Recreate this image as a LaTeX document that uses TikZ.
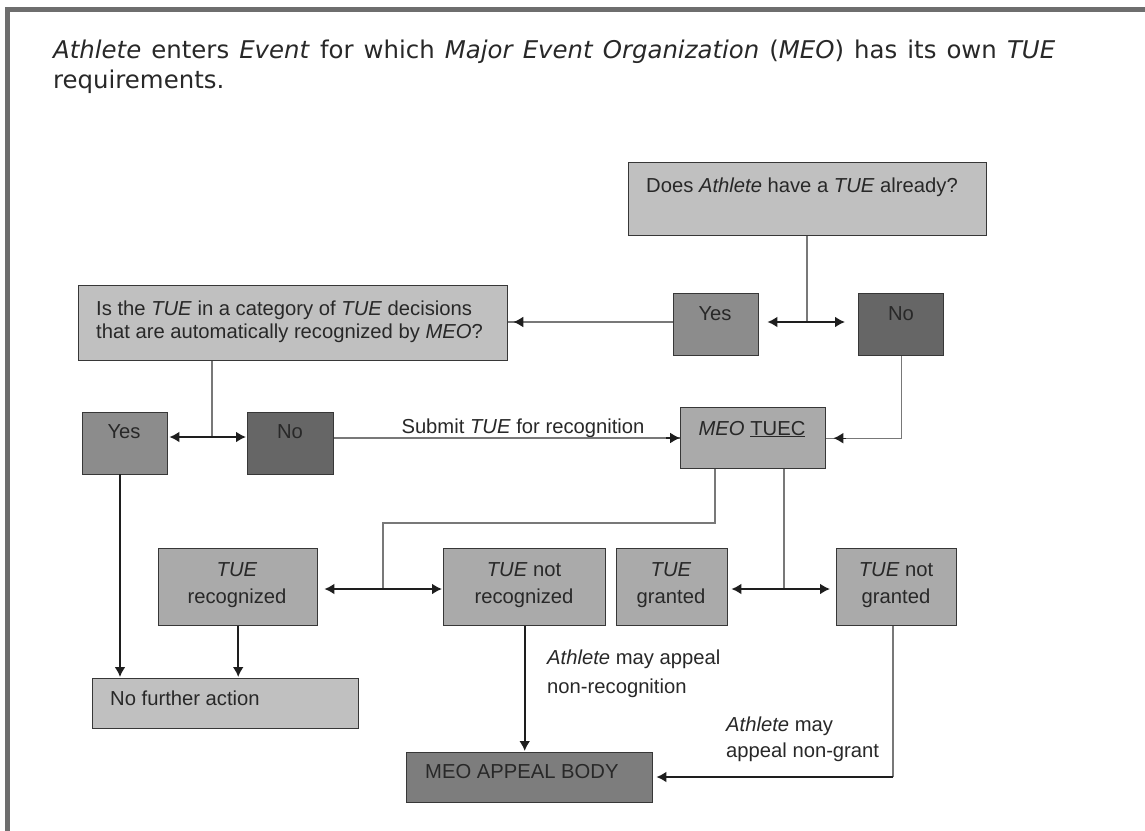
\documentclass[tikz,border=0pt]{standalone}
\usepackage{fontspec}
\setmainfont{Liberation Sans}
\newfontfamily\titlefont[WordSpace=1.3]{DejaVu Sans}
\usetikzlibrary{arrows.meta,calc}
\definecolor{lightfill}{RGB}{192,192,192}
\definecolor{midfill}{RGB}{170,170,170}
\definecolor{yesfill}{RGB}{140,140,140}
\definecolor{nofill}{RGB}{102,102,102}
\definecolor{appealfill}{RGB}{125,125,125}
\definecolor{boxline}{RGB}{55,55,55}
\definecolor{txtcol}{RGB}{40,40,40}
\definecolor{frame}{RGB}{110,110,110}
\definecolor{thinline}{RGB}{120,120,120}
\definecolor{darkline}{RGB}{30,30,30}
\begin{document}
\begin{tikzpicture}[x=1bp,y=-1bp,
  box/.style={draw=boxline, line width=1.4bp, inner sep=0pt, anchor=north west},
  txt/.style={inner sep=0pt, anchor=base, text=txtcol, font=\fontsize{20.3}{24}\selectfont},
  ltxt/.style={txt, anchor=base west},
  ttl/.style={inner sep=0pt, anchor=base west, text=txtcol, font=\titlefont\fontsize{24.5}{30}\selectfont},
  gline/.style={draw=thinline, line width=1.4bp},
  dline/.style={draw=darkline, line width=2bp},
  tip/.style={-{Latex[length=10bp,width=11bp]}},
  dtip/.style={{Latex[length=10bp,width=11bp]}-{Latex[length=10bp,width=11bp]}}
]
\useasboundingbox (0,0) rectangle (1145,831);
\fill[white] (0,0) rectangle (1145,831);
\fill[frame] (5,7) rectangle (1145,12);
\fill[frame] (5,7) rectangle (10,831);

% title
\node[ttl] (title1) at (53,58)
  {\textit{Athlete} enters \textit{Event} for which \textit{Major Event Organization} (\textit{MEO}) has its own \textit{TUE}};
\node[ttl] (title2) at (53,88) {requirements.};

% boxes
\node[box, fill=lightfill, minimum width=358bp, minimum height=73bp] (does) at (628,162) {};
\node[box, fill=yesfill, minimum width=85bp, minimum height=62bp] (yes1) at (673,293) {};
\node[box, fill=nofill, minimum width=85bp, minimum height=62bp] (no1) at (858,293) {};
\node[box, fill=midfill, minimum width=145bp, minimum height=61bp] (tuec) at (680,407) {};
\node[box, fill=lightfill, minimum width=429bp, minimum height=75bp] (isbox) at (78,285) {};
\node[box, fill=yesfill, minimum width=85bp, minimum height=62bp] (yes2) at (82,412) {};
\node[box, fill=nofill, minimum width=86bp, minimum height=62bp] (no2) at (247,412) {};
\node[box, fill=midfill, minimum width=159bp, minimum height=77bp] (rec) at (158,548) {};
\node[box, fill=midfill, minimum width=162bp, minimum height=77bp] (nrec) at (443,548) {};
\node[box, fill=midfill, minimum width=111bp, minimum height=77bp] (grant) at (616,548) {};
\node[box, fill=midfill, minimum width=120bp, minimum height=77bp] (ngrant) at (836,548) {};
\node[box, fill=lightfill, minimum width=266bp, minimum height=50bp] (nfa) at (92,678) {};
\node[box, fill=appealfill, minimum width=246bp, minimum height=50bp] (appeal) at (406,752) {};

% box texts
\node[txt] (doest) at (802,192) {Does \textit{Athlete} have a \textit{TUE} already?};
\node[txt] (yes1t) at (715,320) {Yes};
\node[txt] (no1t) at (901,320) {No};
\node[txt] (tuect) at (752,435) {\textit{MEO} \underline{TUEC}};
\node[ltxt] (ist1) at (96,315) {Is the \textit{TUE} in a category of \textit{TUE} decisions};
\node[ltxt] (ist2) at (96,338) {that are automatically recognized by \textit{MEO}?};
\node[txt] (yes2t) at (124,438) {Yes};
\node[txt] (no2t) at (290,438) {No};
\node[txt] (rect1) at (237,576) {\textit{TUE}};
\node[txt] (rect2) at (237,603) {recognized};
\node[txt] (nrect1) at (524,576) {\textit{TUE} not};
\node[txt] (nrect2) at (524,603) {recognized};
\node[txt] (grantt1) at (671,576) {\textit{TUE}};
\node[txt] (grantt2) at (671,603) {granted};
\node[txt] (ngrantt1) at (896,576) {\textit{TUE} not};
\node[txt] (ngrantt2) at (896,603) {granted};
\node[ltxt] (nfat) at (110,705) {No further action};
\node[ltxt] (appealt) at (425,778) {MEO APPEAL BODY};

% labels
\node[txt] (subt) at (523,433) {Submit \textit{TUE} for recognition};
\node[ltxt] (lab1a) at (547,664) {\textit{Athlete} may appeal};
\node[ltxt] (lab1b) at (547,693) {non-recognition};
\node[ltxt] (lab2a) at (726,731) {\textit{Athlete} may};
\node[ltxt] (lab2b) at (726,757) {appeal non-grant};

% junction coordinates
\coordinate (j1) at (807,322);
\coordinate (j2) at (212,437);
\coordinate (j3) at (500,438);
\coordinate (k) at (715,523);
\coordinate (j4) at (383,589);
\coordinate (j5) at (784,589);
\coordinate (c1) at (120,474);
\coordinate (c2) at (893,777);

% connectors
\draw[gline] (does.south -| j1) -- (j1);
\draw[dline, dtip, shorten <=8bp, shorten >=13bp] (yes1.east |- j1) -- (no1.west |- j1);
\draw[gline] (yes1.west |- j1) -- (isbox.east |- j1);
\draw[darkline, tip, line width=1.4bp, shorten >=5bp] ($(isbox.east |- j1)+(12,0)$) -- (isbox.east |- j1);

\draw[gline] (isbox.south -| j2) -- (j2);
\draw[dline, dtip, shorten <=1bp, shorten >=1bp] (yes2.east |- j2) -- (no2.west |- j2);

\draw[gline] (no2.east |- j3) -- (tuec.west |- j3);
\draw[darkline, tip, line width=1.4bp] ($(tuec.west |- j3)+(-14,0)$) -- (tuec.west |- j3);

\draw[gline] (no1.south) |- (tuec.east);
\draw[darkline, tip, line width=1.4bp, shorten >=7bp] ($(tuec.east)+(20,0)$) -- (tuec.east);

\draw[gline] (tuec.south -| k) -- (k) -- (k -| j4) -- (j4);
\draw[dline, dtip, shorten <=6bp, shorten >=1bp] (rec.east |- j4) -- (nrec.west |- j4);
\draw[gline] (tuec.south -| j5) -- (j5);
\draw[dline, dtip, shorten <=3bp, shorten >=6bp] (grant.east |- j5) -- (ngrant.west |- j5);

\draw[dline, tip, shorten >=1bp] (c1) -- (c1 |- nfa.north);
\draw[dline, tip, shorten >=1bp] (rec.south) -- (rec.south |- nfa.north);
\draw[dline, tip, shorten >=1bp] (nrec.south) -- (nrec.south |- appeal.north);
\draw[gline] (ngrant.south -| c2) -- (c2);
\draw[dline, tip, shorten >=3bp] (c2) -- (c2 -| appeal.east);
\end{tikzpicture}
\end{document}
